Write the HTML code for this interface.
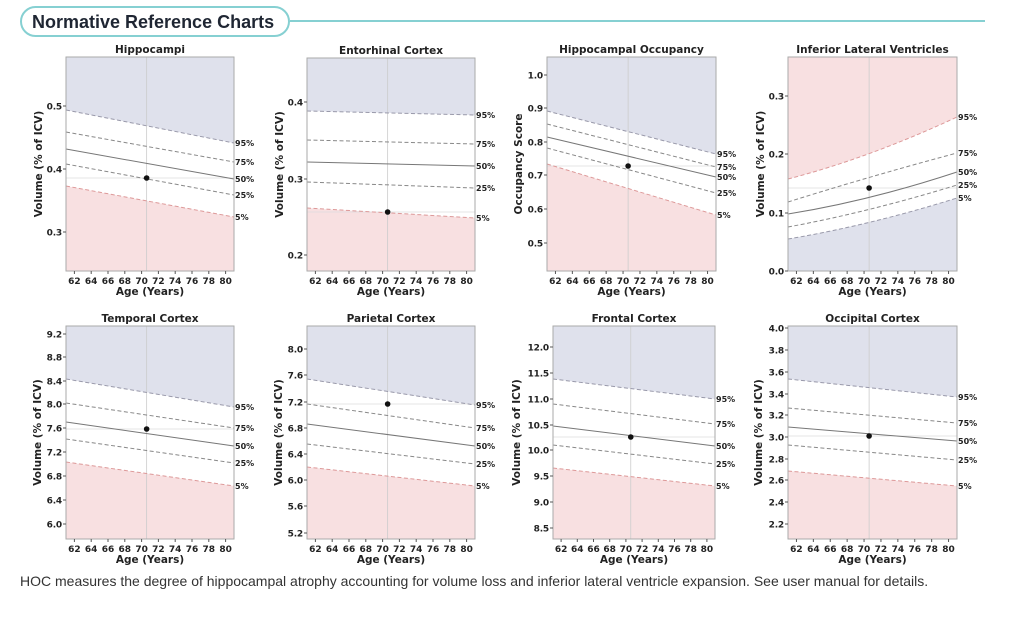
<!DOCTYPE html>
<html><head><meta charset="utf-8"><style>
body{margin:0;background:#fff;width:1024px;height:617px;overflow:hidden;font-family:"DejaVu Sans","Liberation Sans",sans-serif}
#hdr{position:absolute;left:20px;top:6px;width:270px;height:31px;border:2px solid #86d0d2;border-radius:16px;box-sizing:border-box}
#hdr span{position:absolute;left:10px;top:4px;font:bold 18px "Liberation Sans",sans-serif;color:#1f2633;white-space:nowrap}
#hl{position:absolute;left:290px;top:20px;width:695px;height:2px;background:#86d0d2}
#ft{position:absolute;left:20px;top:573px;font:14px "Liberation Sans",sans-serif;color:#333;white-space:nowrap}
svg{position:absolute;left:0;top:0}
</style></head><body>
<div id="hdr"><span>Normative Reference Charts</span></div><div id="hl"></div>
<svg id="s" width="1024" height="617" xmlns="http://www.w3.org/2000/svg"></svg>
<div id="ft">HOC measures the degree of hippocampal atrophy accounting for volume loss and inferior lateral ventricle expansion. See user manual for details.</div>
<script>
const P=[
{t:"Hippocampi",b:[66,57,234,271],yl:"Volume (% of ICV)",ylx:40,yt:[["0.5",106],["0.4",169],["0.3",232]],
 L:[[110,143],[132,162],[149,179],[164,195],[186,217]],d:178},
{t:"Entorhinal Cortex",b:[307,58,475,271],yl:"Volume (% of ICV)",ylx:281,yt:[["0.4",102],["0.3",179],["0.2",255]],
 L:[[111,115],[140,144],[162,166],[182,188],[208,218]],d:212},
{t:"Hippocampal Occupancy",b:[547,57,716,271],yl:"Occupancy Score",ylx:520,yt:[["1.0",75],["0.9",108],["0.8",142],["0.7",175],["0.6",209],["0.5",243]],
 L:[[111,154],[124,167],[137,177],[148,193],[164,215]],d:166},
{t:"Inferior Lateral Ventricles",b:[788,57,957,271],yl:"Volume (% of ICV)",ylx:762,inv:1,yt:[["0.3",96],["0.2",154],["0.1",213],["0.0",271]],
 L:[[179,117,153],[202,153,177],[214,172,197],[227,185,209],[239,198,222]],d:188},
{t:"Temporal Cortex",b:[66,326,234,539],yl:"Volume (% of ICV)",ylx:39,yt:[["9.2",334],["8.8",357],["8.4",381],["8.0",404],["7.6",428],["7.2",452],["6.8",476],["6.4",500],["6.0",524]],
 L:[[379,407],[403,428],[422,446],[439,463],[462,486]],d:429},
{t:"Parietal Cortex",b:[307,326,475,539],yl:"Volume (% of ICV)",ylx:280,yt:[["8.0",349],["7.6",375],["7.2",402],["6.8",428],["6.4",454],["6.0",480],["5.6",506],["5.2",533]],
 L:[[379,405],[404,428],[424,446],[444,464],[467,486]],d:404},
{t:"Frontal Cortex",b:[553,326,715,539],yl:"Volume (% of ICV)",ylx:518,yt:[["12.0",347],["11.5",373],["11.0",399],["10.5",425],["10.0",450],["9.5",476],["9.0",502],["8.5",528]],
 L:[[379,399],[404,424],[426,446],[445,464],[468,486]],d:437},
{t:"Occipital Cortex",b:[788,326,957,539],yl:"Volume (% of ICV)",ylx:760,yt:[["4.0",328],["3.8",350],["3.6",372],["3.4",394],["3.2",415],["3.0",437],["2.8",459],["2.6",480],["2.4",502],["2.2",524]],
 L:[[379,397],[408,423],[427,441],[445,460],[471,486]],d:436}];
const BL="#dfe1ec",RD="#f8e0e1",labs=["95%","75%","50%","25%","5%"];
let h="";
for(const p of P){
 const [x0,y0,x1,y1]=p.b,w=x1-x0,X=yr=>x0+(yr-61)/20*w,xm=X(70.6);
 const path=l=>{ if(l.length==3){const cy=2*l[2]-(l[0]+l[1])/2; return `M${x0},${l[0]} Q${xm},${cy} ${x1},${l[1]}`;} return `M${x0},${l[0]} L${x1},${l[1]}`;};
 const top=p.inv?RD:BL, bot=p.inv?BL:RD;
 const back=l=>l.length==3?`Q${xm},${2*l[2]-(l[0]+l[1])/2} ${x0},${l[0]}`:`L${x0},${l[0]}`;
 h+=`<path d="M${x0},${y0} L${x1},${y0} L${x1},${p.L[0][1]} ${back(p.L[0])} Z" fill="${top}"/>`;
 const l5=p.L[4];
 h+=`<path d="M${x0},${y1} L${x1},${y1} L${x1},${l5[1]} ${back(l5)} Z" fill="${bot}"/>`;
 h+=`<line x1="${xm}" y1="${y0}" x2="${xm}" y2="${y1}" stroke="#ccc" stroke-width="0.8"/>`;
 h+=`<line x1="${x0}" y1="${p.d}" x2="${x1}" y2="${p.d}" stroke="#ddd" stroke-width="0.8"/>`;
 p.L.forEach((l,i)=>{
  const c=i==2?"#777":(i==0?(p.inv?"#d99":"#99a"):(i==4?(p.inv?"#99a":"#d99"):"#888"));
  h+=`<path d="${path(l)}" fill="none" stroke="${c}" stroke-width="1" ${i==2?"":'stroke-dasharray="4,2.5"'}/>`;
  h+=`<text x="${x1+1}" y="${l[1]+3}" font-size="8" font-weight="bold" fill="#222">${labs[i]}</text>`;
 });
 h+=`<circle cx="${xm}" cy="${p.d}" r="2.8" fill="#111"/>`;
 h+=`<rect x="${x0}" y="${y0}" width="${w}" height="${y1-y0}" fill="none" stroke="#aaa" stroke-width="1"/>`;
 for(const [s,y] of p.yt){h+=`<line x1="${x0-3}" y1="${y}" x2="${x0}" y2="${y}" stroke="#555"/><text x="${x0-4}" y="${y+3.3}" font-size="9" font-weight="bold" text-anchor="end" fill="#222" letter-spacing="-0.2">${s}</text>`;}
 for(let yr=62;yr<=80;yr+=2){const x=X(yr);h+=`<line x1="${x}" y1="${y1}" x2="${x}" y2="${y1+3}" stroke="#555"/><text x="${x}" y="${y1+13}" font-size="9" font-weight="bold" text-anchor="middle" fill="#222">${yr}</text>`;}
 h+=`<text x="${(x0+x1)/2}" y="${y1+24}" font-size="10.5" font-weight="bold" text-anchor="middle" fill="#222">Age (Years)</text>`;
 h+=`<text x="${(x0+x1)/2}" y="${y0-4}" font-size="10.5" font-weight="bold" text-anchor="middle" fill="#222">${p.t}</text>`;
 const yc=(y0+y1)/2;
 h+=`<text transform="translate(${p.ylx+2},${yc}) rotate(-90)" font-size="10.5" font-weight="bold" text-anchor="middle" fill="#222">${p.yl}</text>`;
}
document.getElementById("s").innerHTML=h;
</script>
</body></html>
